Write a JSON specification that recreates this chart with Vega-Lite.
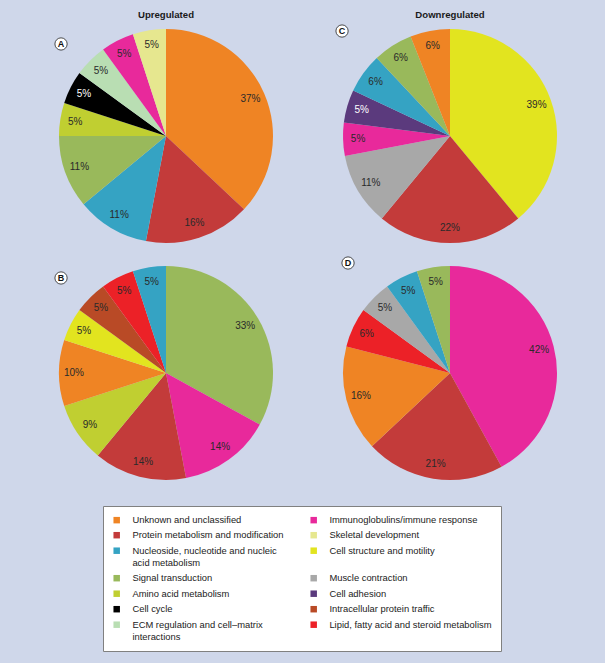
{
  "$schema": "https://vega.github.io/schema/vega-lite/v6.json",
  "background": "#cfd7ea",
  "padding": {"left": 53, "top": 9, "right": 49, "bottom": 13},
  "datasets": {
    "shares": [
      {"pie": "A", "k": 1, "cat": "Unknown and unclassified", "share": 0.37},
      {"pie": "A", "k": 2, "cat": "Protein metabolism and modification", "share": 0.16},
      {"pie": "A", "k": 3, "cat": "Nucleoside, nucleotide and nucleic acid metabolism", "share": 0.11},
      {"pie": "A", "k": 4, "cat": "Signal transduction", "share": 0.11},
      {"pie": "A", "k": 5, "cat": "Amino acid metabolism", "share": 0.05},
      {"pie": "A", "k": 6, "cat": "Cell cycle", "share": 0.05},
      {"pie": "A", "k": 7, "cat": "ECM regulation and cell–matrix interactions", "share": 0.05},
      {"pie": "A", "k": 8, "cat": "Immunoglobulins/immune response", "share": 0.05},
      {"pie": "A", "k": 9, "cat": "Skeletal development", "share": 0.05},
      {"pie": "C", "k": 1, "cat": "Cell structure and motility", "share": 0.39},
      {"pie": "C", "k": 2, "cat": "Protein metabolism and modification", "share": 0.22},
      {"pie": "C", "k": 3, "cat": "Muscle contraction", "share": 0.11},
      {"pie": "C", "k": 4, "cat": "Immunoglobulins/immune response", "share": 0.05},
      {"pie": "C", "k": 5, "cat": "Cell adhesion", "share": 0.05},
      {"pie": "C", "k": 6, "cat": "Nucleoside, nucleotide and nucleic acid metabolism", "share": 0.06},
      {"pie": "C", "k": 7, "cat": "Signal transduction", "share": 0.06},
      {"pie": "C", "k": 8, "cat": "Unknown and unclassified", "share": 0.06},
      {"pie": "B", "k": 1, "cat": "Signal transduction", "share": 0.33},
      {"pie": "B", "k": 2, "cat": "Immunoglobulins/immune response", "share": 0.14},
      {"pie": "B", "k": 3, "cat": "Protein metabolism and modification", "share": 0.14},
      {"pie": "B", "k": 4, "cat": "Amino acid metabolism", "share": 0.09},
      {"pie": "B", "k": 5, "cat": "Unknown and unclassified", "share": 0.10},
      {"pie": "B", "k": 6, "cat": "Cell structure and motility", "share": 0.05},
      {"pie": "B", "k": 7, "cat": "Intracellular protein traffic", "share": 0.05},
      {"pie": "B", "k": 8, "cat": "Lipid, fatty acid and steroid metabolism", "share": 0.05},
      {"pie": "B", "k": 9, "cat": "Nucleoside, nucleotide and nucleic acid metabolism", "share": 0.05},
      {"pie": "D", "k": 1, "cat": "Immunoglobulins/immune response", "share": 0.42},
      {"pie": "D", "k": 2, "cat": "Protein metabolism and modification", "share": 0.21},
      {"pie": "D", "k": 3, "cat": "Unknown and unclassified", "share": 0.16},
      {"pie": "D", "k": 4, "cat": "Lipid, fatty acid and steroid metabolism", "share": 0.06},
      {"pie": "D", "k": 5, "cat": "Muscle contraction", "share": 0.05},
      {"pie": "D", "k": 6, "cat": "Nucleoside, nucleotide and nucleic acid metabolism", "share": 0.05},
      {"pie": "D", "k": 7, "cat": "Signal transduction", "share": 0.05}
    ]
  },
  "vconcat": [
    {
      "bounds": "flush",
      "hconcat": [
        {
          "width": 214, "height": 214,
          "title": {"text": "Upregulated", "offset": 9},
          "layer": [
            {
              "data": {"name": "shares"},
              "transform": [{"filter": "datum.pie === 'A'"}],
              "mark": {"type": "arc", "outerRadius": 107},
              "encoding": {
                "theta": {"field": "share", "type": "quantitative", "stack": true},
                "order": {"field": "k", "type": "quantitative"},
                "color": {
                  "field": "cat", "type": "nominal",
                  "scale": {
                    "domain": ["Unknown and unclassified", "Protein metabolism and modification", "Nucleoside, nucleotide and nucleic acid metabolism", "Signal transduction", "Amino acid metabolism", "Cell cycle", "ECM regulation and cell–matrix interactions", "Immunoglobulins/immune response", "Skeletal development", "Cell structure and motility", "Muscle contraction", "Cell adhesion", "Intracellular protein traffic", "Lipid, fatty acid and steroid metabolism"],
                    "range": ["#ef8424", "#c33b3a", "#35a3c3", "#99b95b", "#c0cf31", "#000000", "#b9deb3", "#e8299b", "#e6e78f", "#e2e41f", "#a8a8a8", "#5b3a7d", "#b94a26", "#ec2127"]
                  },
                  "legend": {
                    "labelExpr": "datum.label === 'Nucleoside, nucleotide and nucleic acid metabolism' ? ['Nucleoside, nucleotide and nucleic', 'acid metabolism'] : datum.label === 'ECM regulation and cell–matrix interactions' ? ['ECM regulation and cell–matrix', 'interactions'] : datum.label",
                    "encode": {"labels": {"update": {"lineHeight": {"value": 12}}}}
                  }
                }
              }
            },
            {
              "data": {"name": "shares"},
              "transform": [{"filter": "datum.pie === 'A'"}],
              "mark": {"type": "text", "radius": 92, "fontSize": 10, "font": "Liberation Sans"},
              "encoding": {
                "theta": {"field": "share", "type": "quantitative", "stack": true},
                "order": {"field": "k", "type": "quantitative"},
                "detail": {"field": "cat", "type": "nominal"},
                "text": {"field": "share", "type": "quantitative", "format": ".0%"},
                "color": {"condition": {"test": "datum.cat === 'Cell cycle' || datum.cat === 'Cell adhesion'", "value": "#ffffff"}, "value": "#2a2a2a"}
              }
            },
            {
              "data": {"values": [{"letter": "A"}]},
              "mark": {"type": "point", "shape": "circle", "filled": true, "fill": "#ffffff", "stroke": "#222222", "strokeWidth": 0.8, "size": 150, "opacity": 1},
              "encoding": {
                "x": {"datum": -0.981, "type": "quantitative", "scale": {"domain": [-1, 1]}, "axis": null},
                "y": {"datum": 0.86, "type": "quantitative", "scale": {"domain": [-1, 1]}, "axis": null}
              }
            },
            {
              "data": {"values": [{"letter": "A"}]},
              "mark": {"type": "text", "fontWeight": "bold", "fontSize": 9, "font": "Liberation Sans", "color": "#111111"},
              "encoding": {
                "x": {"datum": -0.981, "type": "quantitative", "scale": {"domain": [-1, 1]}, "axis": null},
                "y": {"datum": 0.86, "type": "quantitative", "scale": {"domain": [-1, 1]}, "axis": null},
                "text": {"field": "letter"}
              }
            }
          ]
        },
        {
          "width": 214, "height": 214,
          "title": {"text": "Downregulated", "offset": 4},
          "layer": [
            {
              "data": {"name": "shares"},
              "transform": [{"filter": "datum.pie === 'C'"}],
              "mark": {"type": "arc", "outerRadius": 107},
              "encoding": {
                "theta": {"field": "share", "type": "quantitative", "stack": true},
                "order": {"field": "k", "type": "quantitative"},
                "color": {
                  "field": "cat", "type": "nominal",
                  "scale": {
                    "domain": ["Unknown and unclassified", "Protein metabolism and modification", "Nucleoside, nucleotide and nucleic acid metabolism", "Signal transduction", "Amino acid metabolism", "Cell cycle", "ECM regulation and cell–matrix interactions", "Immunoglobulins/immune response", "Skeletal development", "Cell structure and motility", "Muscle contraction", "Cell adhesion", "Intracellular protein traffic", "Lipid, fatty acid and steroid metabolism"],
                    "range": ["#ef8424", "#c33b3a", "#35a3c3", "#99b95b", "#c0cf31", "#000000", "#b9deb3", "#e8299b", "#e6e78f", "#e2e41f", "#a8a8a8", "#5b3a7d", "#b94a26", "#ec2127"]
                  },
                  "legend": {
                    "labelExpr": "datum.label === 'Nucleoside, nucleotide and nucleic acid metabolism' ? ['Nucleoside, nucleotide and nucleic', 'acid metabolism'] : datum.label === 'ECM regulation and cell–matrix interactions' ? ['ECM regulation and cell–matrix', 'interactions'] : datum.label",
                    "encode": {"labels": {"update": {"lineHeight": {"value": 12}}}}
                  }
                }
              }
            },
            {
              "data": {"name": "shares"},
              "transform": [{"filter": "datum.pie === 'C'"}],
              "mark": {"type": "text", "radius": 92, "fontSize": 10, "font": "Liberation Sans"},
              "encoding": {
                "theta": {"field": "share", "type": "quantitative", "stack": true},
                "order": {"field": "k", "type": "quantitative"},
                "detail": {"field": "cat", "type": "nominal"},
                "text": {"field": "share", "type": "quantitative", "format": ".0%"},
                "color": {"condition": {"test": "datum.cat === 'Cell cycle' || datum.cat === 'Cell adhesion'", "value": "#ffffff"}, "value": "#2a2a2a"}
              }
            },
            {
              "data": {"values": [{"letter": "C"}]},
              "mark": {"type": "point", "shape": "circle", "filled": true, "fill": "#ffffff", "stroke": "#222222", "strokeWidth": 0.8, "size": 150, "opacity": 1},
              "encoding": {
                "x": {"datum": -1.009, "type": "quantitative", "scale": {"domain": [-1, 1]}, "axis": null},
                "y": {"datum": 0.981, "type": "quantitative", "scale": {"domain": [-1, 1]}, "axis": null}
              }
            },
            {
              "data": {"values": [{"letter": "C"}]},
              "mark": {"type": "text", "fontWeight": "bold", "fontSize": 9, "font": "Liberation Sans", "color": "#111111"},
              "encoding": {
                "x": {"datum": -1.009, "type": "quantitative", "scale": {"domain": [-1, 1]}, "axis": null},
                "y": {"datum": 0.981, "type": "quantitative", "scale": {"domain": [-1, 1]}, "axis": null},
                "text": {"field": "letter"}
              }
            }
          ]
        }
      ],
      "spacing": 70
    },
    {
      "bounds": "flush",
      "hconcat": [
        {
          "width": 214, "height": 214,
          "layer": [
            {
              "data": {"name": "shares"},
              "transform": [{"filter": "datum.pie === 'B'"}],
              "mark": {"type": "arc", "outerRadius": 107},
              "encoding": {
                "theta": {"field": "share", "type": "quantitative", "stack": true},
                "order": {"field": "k", "type": "quantitative"},
                "color": {
                  "field": "cat", "type": "nominal",
                  "scale": {
                    "domain": ["Unknown and unclassified", "Protein metabolism and modification", "Nucleoside, nucleotide and nucleic acid metabolism", "Signal transduction", "Amino acid metabolism", "Cell cycle", "ECM regulation and cell–matrix interactions", "Immunoglobulins/immune response", "Skeletal development", "Cell structure and motility", "Muscle contraction", "Cell adhesion", "Intracellular protein traffic", "Lipid, fatty acid and steroid metabolism"],
                    "range": ["#ef8424", "#c33b3a", "#35a3c3", "#99b95b", "#c0cf31", "#000000", "#b9deb3", "#e8299b", "#e6e78f", "#e2e41f", "#a8a8a8", "#5b3a7d", "#b94a26", "#ec2127"]
                  },
                  "legend": {
                    "labelExpr": "datum.label === 'Nucleoside, nucleotide and nucleic acid metabolism' ? ['Nucleoside, nucleotide and nucleic', 'acid metabolism'] : datum.label === 'ECM regulation and cell–matrix interactions' ? ['ECM regulation and cell–matrix', 'interactions'] : datum.label",
                    "encode": {"labels": {"update": {"lineHeight": {"value": 12}}}}
                  }
                }
              }
            },
            {
              "data": {"name": "shares"},
              "transform": [{"filter": "datum.pie === 'B'"}],
              "mark": {"type": "text", "radius": 92, "fontSize": 10, "font": "Liberation Sans"},
              "encoding": {
                "theta": {"field": "share", "type": "quantitative", "stack": true},
                "order": {"field": "k", "type": "quantitative"},
                "detail": {"field": "cat", "type": "nominal"},
                "text": {"field": "share", "type": "quantitative", "format": ".0%"},
                "color": {"condition": {"test": "datum.cat === 'Cell cycle' || datum.cat === 'Cell adhesion'", "value": "#ffffff"}, "value": "#2a2a2a"}
              }
            },
            {
              "data": {"values": [{"letter": "B"}]},
              "mark": {"type": "point", "shape": "circle", "filled": true, "fill": "#ffffff", "stroke": "#222222", "strokeWidth": 0.8, "size": 150, "opacity": 1},
              "encoding": {
                "x": {"datum": -0.981, "type": "quantitative", "scale": {"domain": [-1, 1]}, "axis": null},
                "y": {"datum": 0.888, "type": "quantitative", "scale": {"domain": [-1, 1]}, "axis": null}
              }
            },
            {
              "data": {"values": [{"letter": "B"}]},
              "mark": {"type": "text", "fontWeight": "bold", "fontSize": 9, "font": "Liberation Sans", "color": "#111111"},
              "encoding": {
                "x": {"datum": -0.981, "type": "quantitative", "scale": {"domain": [-1, 1]}, "axis": null},
                "y": {"datum": 0.888, "type": "quantitative", "scale": {"domain": [-1, 1]}, "axis": null},
                "text": {"field": "letter"}
              }
            }
          ]
        },
        {
          "width": 214, "height": 214,
          "layer": [
            {
              "data": {"name": "shares"},
              "transform": [{"filter": "datum.pie === 'D'"}],
              "mark": {"type": "arc", "outerRadius": 107},
              "encoding": {
                "theta": {"field": "share", "type": "quantitative", "stack": true},
                "order": {"field": "k", "type": "quantitative"},
                "color": {
                  "field": "cat", "type": "nominal",
                  "scale": {
                    "domain": ["Unknown and unclassified", "Protein metabolism and modification", "Nucleoside, nucleotide and nucleic acid metabolism", "Signal transduction", "Amino acid metabolism", "Cell cycle", "ECM regulation and cell–matrix interactions", "Immunoglobulins/immune response", "Skeletal development", "Cell structure and motility", "Muscle contraction", "Cell adhesion", "Intracellular protein traffic", "Lipid, fatty acid and steroid metabolism"],
                    "range": ["#ef8424", "#c33b3a", "#35a3c3", "#99b95b", "#c0cf31", "#000000", "#b9deb3", "#e8299b", "#e6e78f", "#e2e41f", "#a8a8a8", "#5b3a7d", "#b94a26", "#ec2127"]
                  },
                  "legend": {
                    "labelExpr": "datum.label === 'Nucleoside, nucleotide and nucleic acid metabolism' ? ['Nucleoside, nucleotide and nucleic', 'acid metabolism'] : datum.label === 'ECM regulation and cell–matrix interactions' ? ['ECM regulation and cell–matrix', 'interactions'] : datum.label",
                    "encode": {"labels": {"update": {"lineHeight": {"value": 12}}}}
                  }
                }
              }
            },
            {
              "data": {"name": "shares"},
              "transform": [{"filter": "datum.pie === 'D'"}],
              "mark": {"type": "text", "radius": 92, "fontSize": 10, "font": "Liberation Sans"},
              "encoding": {
                "theta": {"field": "share", "type": "quantitative", "stack": true},
                "order": {"field": "k", "type": "quantitative"},
                "detail": {"field": "cat", "type": "nominal"},
                "text": {"field": "share", "type": "quantitative", "format": ".0%"},
                "color": {"condition": {"test": "datum.cat === 'Cell cycle' || datum.cat === 'Cell adhesion'", "value": "#ffffff"}, "value": "#2a2a2a"}
              }
            },
            {
              "data": {"values": [{"letter": "D"}]},
              "mark": {"type": "point", "shape": "circle", "filled": true, "fill": "#ffffff", "stroke": "#222222", "strokeWidth": 0.8, "size": 150, "opacity": 1},
              "encoding": {
                "x": {"datum": -0.953, "type": "quantitative", "scale": {"domain": [-1, 1]}, "axis": null},
                "y": {"datum": 1.028, "type": "quantitative", "scale": {"domain": [-1, 1]}, "axis": null}
              }
            },
            {
              "data": {"values": [{"letter": "D"}]},
              "mark": {"type": "text", "fontWeight": "bold", "fontSize": 9, "font": "Liberation Sans", "color": "#111111"},
              "encoding": {
                "x": {"datum": -0.953, "type": "quantitative", "scale": {"domain": [-1, 1]}, "axis": null},
                "y": {"datum": 1.028, "type": "quantitative", "scale": {"domain": [-1, 1]}, "axis": null},
                "text": {"field": "letter"}
              }
            }
          ]
        }
      ],
      "spacing": 70
    }
  ],
  "spacing": 12,
  "resolve": {"scale": {"color": "shared"}},
  "config": {
    "view": {"stroke": null},
    "font": "Liberation Sans",
    "title": {"fontSize": 9.6, "fontWeight": "bold", "font": "Liberation Sans", "color": "#1a1a1a", "anchor": "middle"},
    "legend": {
      "orient": "none",
      "legendX": 44,
      "legendY": 477,
      "columns": 2,
      "title": null,
      "fillColor": "#ffffff",
      "strokeColor": "#808080",
      "padding": 9,
      "symbolType": "square",
      "symbolSize": 42,
      "symbolStrokeWidth": 0,
      "labelFont": "Liberation Sans",
      "labelFontSize": 9.4,
      "labelColor": "#222222",
      "labelOffset": 11,
      "labelLimit": 300,
      "rowPadding": 4.5,
      "columnPadding": 25
    }
  }
}
